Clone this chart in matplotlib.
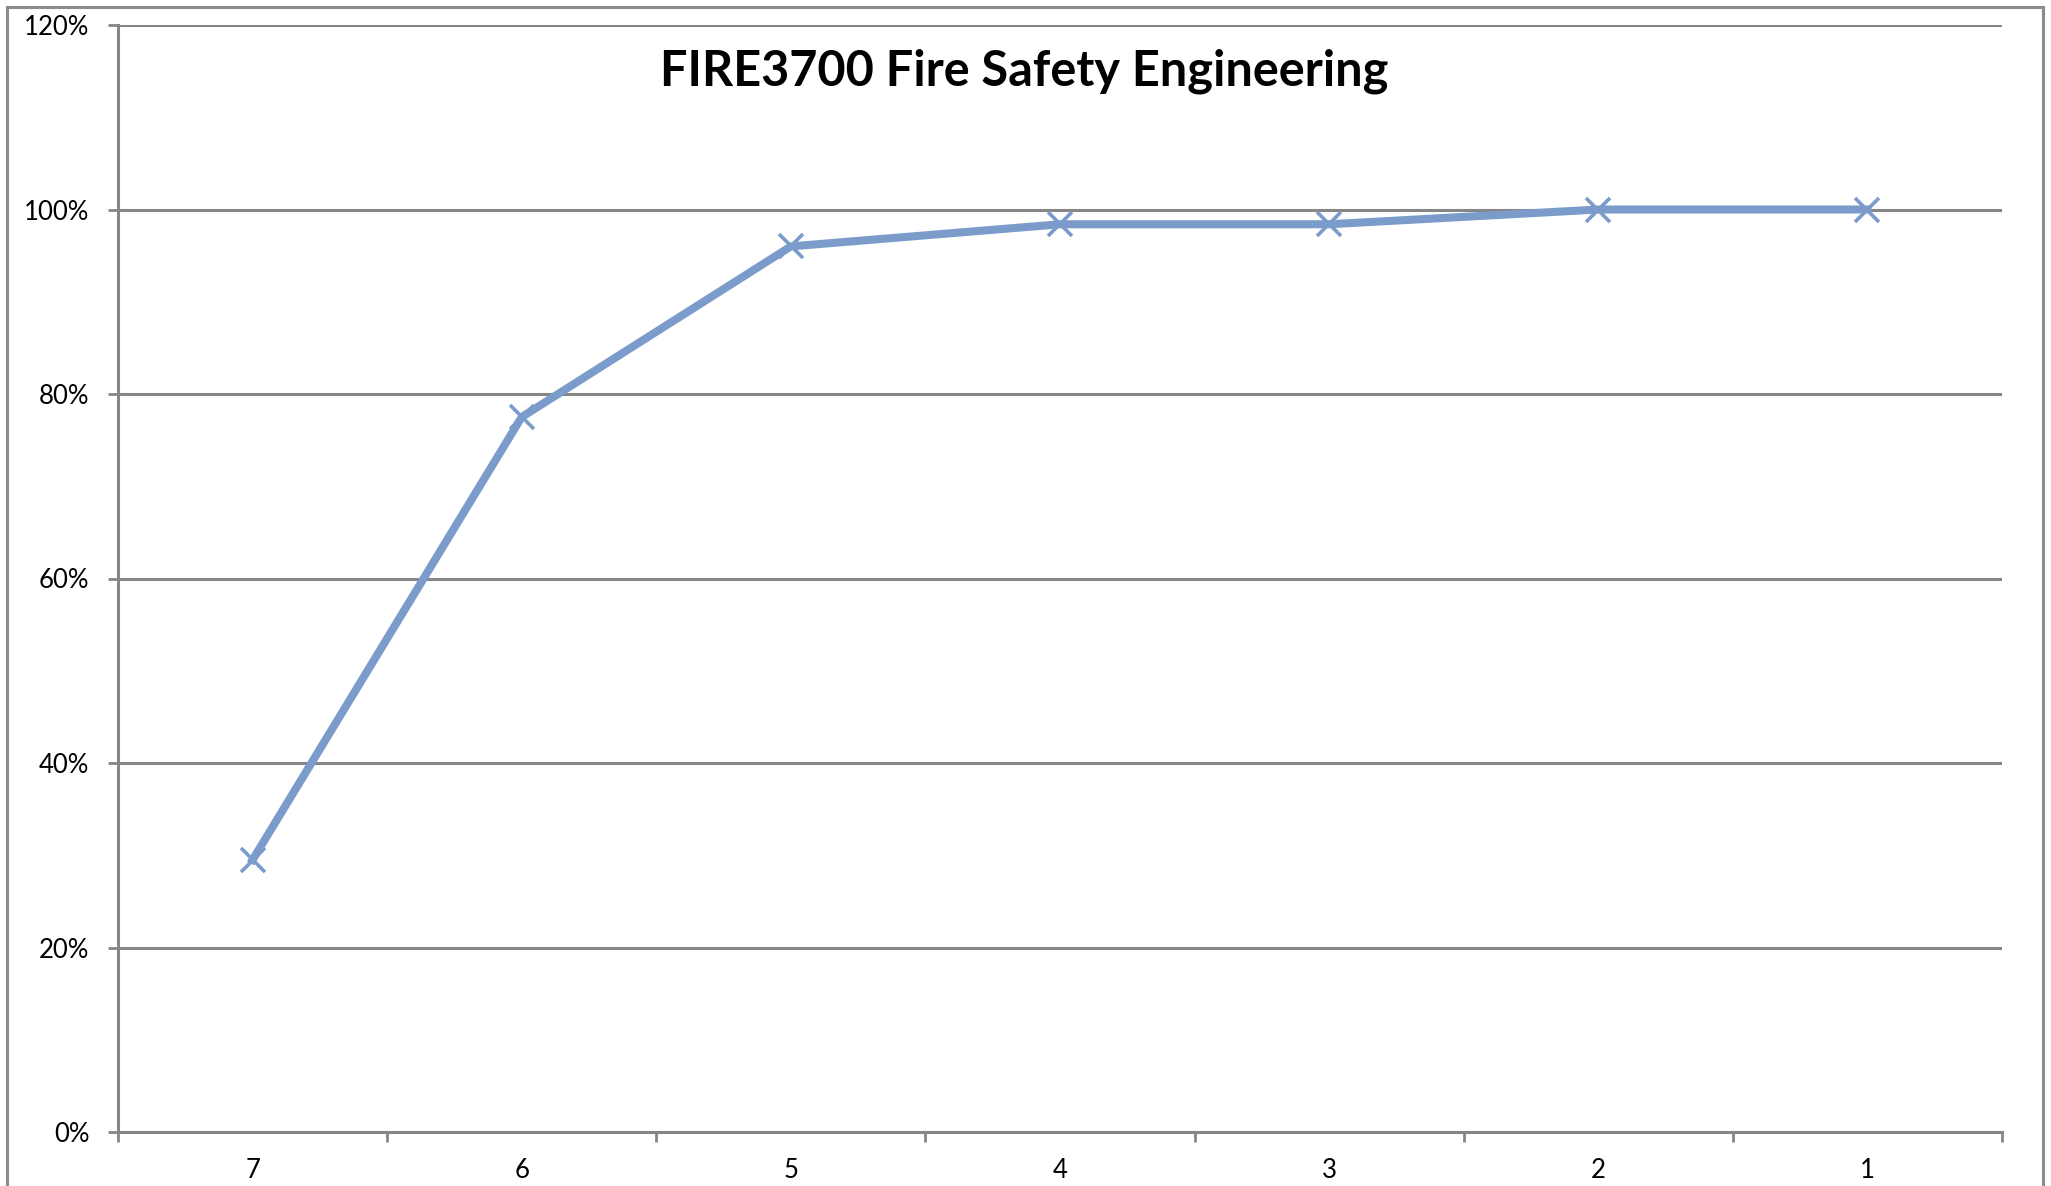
import matplotlib
matplotlib.use("Agg")
import matplotlib.pyplot as plt
import matplotlib.patches as mpatches
import numpy as np

plt.rcParams['font.family'] = ['Lato', 'DejaVu Sans']

categories = ["7", "6", "5", "4", "3", "2", "1"]
values = [29.5, 77.5, 96.0, 98.4, 98.4, 100.0, 100.0]
yticks = [0, 20, 40, 60, 80, 100, 120]
title = "FIRE3700 Fire Safety Engineering"

W, H = 2051, 1186
fig = plt.figure(figsize=(W / 100, H / 100), dpi=100)
ax = fig.add_axes([118 / W, (H - 1132) / H, 1884 / W, 1107 / H])

grey = "#868686"
blue = "#7B9CCA"

x = np.arange(len(categories))
ax.plot(x, values, color=blue, lw=5.8, marker="x", ms=17, mew=2.6,
        solid_joinstyle="round", zorder=3, clip_on=False)

ax.set_xlim(-0.5, len(categories) - 0.5)
ax.set_ylim(0, 120)
ax.set_yticks(yticks)
ax.set_yticklabels([f"{v}%" for v in yticks])
ax.set_xticks(x)
ax.set_xticklabels(categories)
# ticks at category boundaries
ax.set_xticks(np.arange(-0.5, len(categories), 1.0), minor=True)
ax.tick_params(axis="x", which="major", length=0, pad=19, labelsize=18.5)
ax.tick_params(axis="x", which="minor", length=7.5, width=2, color=grey, direction="out")
ax.tick_params(axis="y", length=7.5, width=2, color=grey, pad=13, labelsize=18.5)

for s in ["top", "right"]:
    ax.spines[s].set_visible(False)
for s in ["left", "bottom"]:
    ax.spines[s].set_color(grey)
    ax.spines[s].set_linewidth(2.2)

ax.yaxis.grid(True, color=grey, lw=2.2)
ax.set_axisbelow(True)

fig.text(1024 / W, 1 - 86 / H, title, ha="center", va="baseline",
         fontsize=35, fontweight="bold")

# chart area border
border = mpatches.Rectangle((7 / W, -0.05), (2043 - 7) / W, 1 - 7 / H + 0.05,
                            transform=fig.transFigure, fill=False,
                            edgecolor="#8C8C8C", lw=2.2)
fig.patches.append(border)

fig.savefig("out.png", dpi=100)
